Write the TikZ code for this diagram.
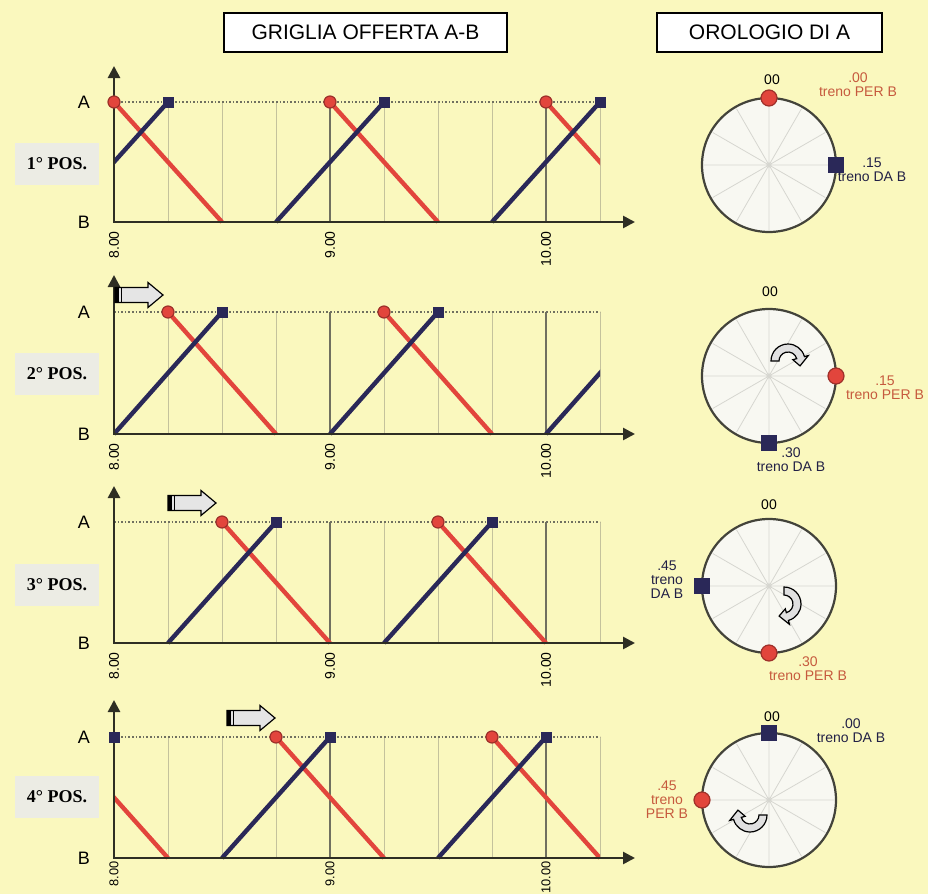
\documentclass[tikz,border=0pt]{standalone}
\usepackage{fontspec}
\setmainfont{Liberation Serif}
\setsansfont{Liberation Sans}
\usetikzlibrary{arrows.meta,positioning}
\definecolor{Paper}{HTML}{FAF8BE}
\definecolor{GridLine}{HTML}{C4C29C}
\definecolor{HourLine}{HTML}{707060}
\definecolor{AxisInk}{HTML}{2E2E24}
\definecolor{PerB}{HTML}{E2453C}
\definecolor{PerBText}{HTML}{C65A3E}
\definecolor{DaB}{HTML}{2A2858}
\definecolor{Face}{HTML}{F8F8F2}
\definecolor{Spoke}{HTML}{D6D6D0}
\definecolor{PosBox}{HTML}{ECECE4}

\begin{document}
\begin{tikzpicture}[x=0.5pt,y=-0.5pt,
  headbox/.style={draw=black,line width=0.9pt,fill=white,minimum width=141.5pt,minimum height=19.5pt,font=\sffamily\fontsize{10.5}{12}\selectfont},
  posbox/.style={fill=PosBox,minimum width=42pt,minimum height=21pt,font=\rmfamily\bfseries\fontsize{9}{10}\selectfont},
  axlab/.style={font=\sffamily\fontsize{9}{11}\selectfont},
  timelab/.style={font=\sffamily\fontsize{7}{8}\selectfont,rotate=90,anchor=east,inner sep=0pt},
  gridline/.style={GridLine,line width=0.5pt},
  hourline/.style={HourLine,line width=0.9pt},
  levelA/.style={HourLine,densely dotted,line width=0.8pt},
  axisline/.style={AxisInk,line width=1.3pt,{Triangle[length=6pt,width=6pt]}-{Triangle[length=6pt,width=6pt]}},
  perB/.style={PerB,line width=2.2pt},
  daB/.style={DaB,line width=2.2pt},
  dep/.style={circle,fill=PerB,draw=PerB!70!black,line width=0.6pt,minimum size=6pt,inner sep=0pt},
  arrsq/.style={rectangle,fill=DaB,minimum size=5.5pt,inner sep=0pt},
  clock/.style={circle,fill=Face,draw=AxisInk!90,line width=1.1pt,minimum size=67pt,inner sep=0pt,outer sep=0pt},
  spoke/.style={Spoke,line width=0.4pt},
  hdep/.style={circle,fill=PerB,draw=PerB!70!black,line width=0.6pt,minimum size=8pt,inner sep=0pt},
  harr/.style={rectangle,fill=DaB,minimum size=8pt,inner sep=0pt},
  zerolab/.style={font=\sffamily\fontsize{7}{7}\selectfont,inner sep=0pt},
  tperb/.style={font=\sffamily\fontsize{7}{7}\selectfont,text=PerBText,align=center,inner sep=0pt},
  tdab/.style={font=\sffamily\fontsize{7}{7}\selectfont,text=DaB!80!black,align=center,inner sep=0pt},
  shiftarrow/.pic={
    \filldraw[fill=white!90!black,draw=black,line width=0.6pt] (0,-7.5) -- (33,-7.5) -- (33,-12.5) -- (48,0) -- (33,12.5) -- (33,7.5) -- (0,7.5) -- cycle;
    \fill[black] (0,-7.5) rectangle (4,7.5);
    \draw[black,line width=0.4pt] (6.5,-7.5) -- (6.5,7.5);
  },
  turnarrow/.pic={
    \filldraw[fill=white!88!black,draw=black,line width=0.6pt] (180:17) arc[start angle=180,end angle=345,radius=17] -- (345:21) -- (22:13) -- (345:5) -- (345:9) arc[start angle=345,end angle=180,radius=9] -- cycle;
  }
]
\useasboundingbox (0,0) rectangle (928,894);
\fill[Paper] (0,0) rectangle (928,894);

% titles
\node[headbox] (tgrid) at (365.5,32.5) {GRIGLIA OFFERTA A-B};
\node[headbox,minimum width=112.5pt] (tclock) at (769.5,32.5) {OROLOGIO DI A};

% ---- 1a posizione
\draw[gridline] (168,102) -- (168,222) (222,102) -- (222,222) (276,102) -- (276,222) (384,102) -- (384,222) (438,102) -- (438,222) (492,102) -- (492,222) (600,102) -- (600,222);
\draw[hourline] (330,102) -- (330,222) (546,102) -- (546,222);
\draw[levelA] (114,102) -- (600,102);
\begin{scope}
\clip (114,90) rectangle (600,230);
\draw[perB] (114,102) -- (222,222) (330,102) -- (438,222) (546,102) -- (654,222);
\draw[daB] (60,222) -- (168,102) (276,222) -- (384,102) (492,222) -- (600,102);
\end{scope}
\draw[axisline] (114,66) -- (114,222) -- (635,222);
\node[dep] (d1a) at (114,102) {};
\node[dep] (d1b) at (330,102) {};
\node[dep] (d1c) at (546,102) {};
\node[arrsq] (s1a) at (168,102) {};
\node[arrsq] (s1b) at (384,102) {};
\node[arrsq] (s1c) at (600,102) {};
\node[axlab] (a1) at (84,102) {A};
\node[axlab] (b1) at (84,222) {B};
\node[posbox] (p1) at (57,164) {1° POS.};
\node[timelab] (t1a) at (114,231) {8.00};
\node[timelab] (t1b) at (330,231) {9.00};
\node[timelab] (t1c) at (546,231) {10.00};

% ---- 2a posizione
\draw[gridline] (168,312) -- (168,434) (222,312) -- (222,434) (276,312) -- (276,434) (384,312) -- (384,434) (438,312) -- (438,434) (492,312) -- (492,434) (600,312) -- (600,434);
\draw[hourline] (330,312) -- (330,434) (546,312) -- (546,434);
\draw[levelA] (114,312) -- (600,312);
\begin{scope}
\clip (114,300) rectangle (600,442);
\draw[perB] (168,312) -- (276,434) (384,312) -- (492,434);
\draw[daB] (114,434) -- (222,312) (330,434) -- (438,312) (546,434) -- (654,312);
\end{scope}
\draw[axisline] (114,275) -- (114,434) -- (635,434);
\node[dep] (d2a) at (168,312) {};
\node[dep] (d2b) at (384,312) {};
\node[arrsq] (s2a) at (222,312) {};
\node[arrsq] (s2b) at (438,312) {};
\pic (m2) at (115,295) {shiftarrow};
\node[axlab] (a2) at (84,312) {A};
\node[axlab] (b2) at (84,434) {B};
\node[posbox] (p2) at (57,374) {2° POS.};
\node[timelab] (t2a) at (114,443) {8.00};
\node[timelab] (t2b) at (330,443) {9.00};
\node[timelab] (t2c) at (546,443) {10.00};

% ---- 3a posizione
\draw[gridline] (168,522) -- (168,643) (222,522) -- (222,643) (276,522) -- (276,643) (384,522) -- (384,643) (438,522) -- (438,643) (492,522) -- (492,643) (600,522) -- (600,643);
\draw[hourline] (330,522) -- (330,643) (546,522) -- (546,643);
\draw[levelA] (114,522) -- (600,522);
\begin{scope}
\clip (114,510) rectangle (600,651);
\draw[perB] (222,522) -- (330,643) (438,522) -- (546,643);
\draw[daB] (168,643) -- (276,522) (384,643) -- (492,522);
\end{scope}
\draw[axisline] (114,486) -- (114,643) -- (635,643);
\node[dep] (d3a) at (222,522) {};
\node[dep] (d3b) at (438,522) {};
\node[arrsq] (s3a) at (276,522) {};
\node[arrsq] (s3b) at (492,522) {};
\pic (m3) at (168,503) {shiftarrow};
\node[axlab] (a3) at (84,522) {A};
\node[axlab] (b3) at (84,643) {B};
\node[posbox] (p3) at (57,585) {3° POS.};
\node[timelab] (t3a) at (114,652) {8.00};
\node[timelab] (t3b) at (330,652) {9.00};
\node[timelab] (t3c) at (546,652) {10.00};

% ---- 4a posizione
\draw[gridline] (168,737) -- (168,858) (222,737) -- (222,858) (276,737) -- (276,858) (384,737) -- (384,858) (438,737) -- (438,858) (492,737) -- (492,858) (600,737) -- (600,858);
\draw[hourline] (330,737) -- (330,858) (546,737) -- (546,858);
\draw[levelA] (114,737) -- (600,737);
\begin{scope}
\clip (114,725) rectangle (600,866);
\draw[perB] (60,737) -- (168,858) (276,737) -- (384,858) (492,737) -- (600,858);
\draw[daB] (222,858) -- (330,737) (438,858) -- (546,737);
\end{scope}
\draw[axisline] (114,700) -- (114,858) -- (635,858);
\node[dep] (d4a) at (276,737) {};
\node[dep] (d4b) at (492,737) {};
\node[arrsq] (s4a) at (114,737) {};
\node[arrsq] (s4b) at (330,737) {};
\node[arrsq] (s4c) at (546,737) {};
\pic (m4) at (227,718) {shiftarrow};
\node[axlab] (a4) at (84,737) {A};
\node[axlab] (b4) at (84,858) {B};
\node[posbox] (p4) at (57,797) {4° POS.};
\node[timelab,font=\sffamily\fontsize{6.4}{7}\selectfont] (t4a) at (114,861) {8.00};
\node[timelab,font=\sffamily\fontsize{6.4}{7}\selectfont] (t4b) at (330,861) {9.00};
\node[timelab,font=\sffamily\fontsize{6.4}{7}\selectfont] (t4c) at (546,861) {10.00};

% ---- orologi
\node[clock] (c1) at (769,165) {};
\draw[spoke] (c1.center) +(0:65) -- +(180:65) +(30:65) -- +(210:65) +(60:65) -- +(240:65) +(90:65) -- +(270:65) +(120:65) -- +(300:65) +(150:65) -- +(330:65);
\node[hdep] (c1p) at (c1.north) {};
\node[harr] (c1d) at (c1.east) {};
\node[zerolab] (c1z) at (772,80) {00};
\node[tperb] (c1pl) at (858,85) {.00\\treno PER B};
\node[tdab] (c1dl) at (872,170) {.15\\treno DA B};

\node[clock] (c2) at (769,376) {};
\draw[spoke] (c2.center) +(0:65) -- +(180:65) +(30:65) -- +(210:65) +(60:65) -- +(240:65) +(90:65) -- +(270:65) +(120:65) -- +(300:65) +(150:65) -- +(330:65);
\pic (r2) at (788,361) {turnarrow};
\node[hdep] (c2p) at (c2.east) {};
\node[harr] (c2d) at (c2.south) {};
\node[zerolab] (c2z) at (770,292) {00};
\node[tperb] (c2pl) at (885,388) {.15\\treno PER B};
\node[tdab] (c2dl) at (791,460) {.30\\treno DA B};

\node[clock] (c3) at (769,586) {};
\draw[spoke] (c3.center) +(0:65) -- +(180:65) +(30:65) -- +(210:65) +(60:65) -- +(240:65) +(90:65) -- +(270:65) +(120:65) -- +(300:65) +(150:65) -- +(330:65);
\pic[rotate=-90] (r3) at (784,604) {turnarrow};
\node[harr] (c3d) at (c3.west) {};
\node[hdep] (c3p) at (c3.south) {};
\node[zerolab] (c3z) at (769,505) {00};
\node[tdab] (c3dl) at (667,580) {.45\\treno\\DA B};
\node[tperb] (c3pl) at (808,669) {.30\\treno PER B};

\node[clock] (c4) at (769,800) {};
\draw[spoke] (c4.center) +(0:65) -- +(180:65) +(30:65) -- +(210:65) +(60:65) -- +(240:65) +(90:65) -- +(270:65) +(120:65) -- +(300:65) +(150:65) -- +(330:65);
\pic[rotate=180] (r4) at (750,815) {turnarrow};
\node[harr] (c4d) at (c4.north) {};
\node[hdep] (c4p) at (c4.west) {};
\node[zerolab] (c4z) at (772,717) {00};
\node[tdab] (c4dl) at (851,731) {.00\\treno DA B};
\node[tperb] (c4pl) at (667,800) {.45\\treno\\PER B};
\end{tikzpicture}
\end{document}
